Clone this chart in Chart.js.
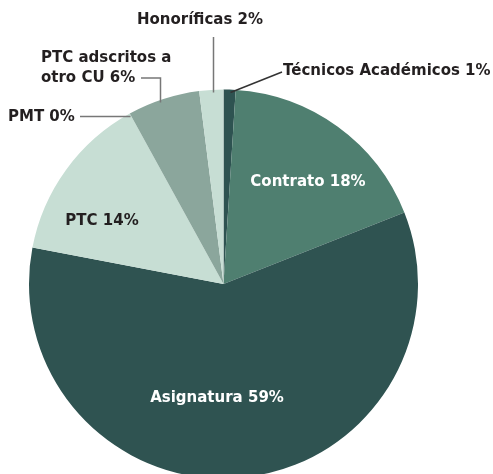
<!DOCTYPE html>
<html>
<head>
<meta charset="utf-8">
<script src="https://cdn.jsdelivr.net/npm/chart.js@4"></script>
<style>
  html, body { margin: 0; padding: 0; background: #fff; overflow: hidden; }
  #wrap { width: 493px; height: 480px; position: relative; }
</style>
</head>
<body>
<div id="wrap"><canvas id="pieChart"></canvas></div>
<script>
// Datos del gráfico (en sentido horario desde arriba)
const categorias = ['Técnicos Académicos', 'Contrato', 'Asignatura', 'PTC', 'PMT', 'PTC adscritos a otro CU', 'Honoríficas'];
const porcentajes = [1, 18, 59, 14, 0, 6, 2];
const colores = ['#2e5351', '#4f7f70', '#2f5351', '#c7ded4', '#c7ded4', '#8ba69c', '#c7ded4'];

// Etiquetas: dentro o fuera con línea guía
const etiquetas = [
  { lines: ['Técnicos Académicos 1%'], kind: 'out', x: 283, y: 71, align: 'left', lead: 'diag', line: '#333' },
  { lines: ['Contrato 18%'], kind: 'in', x: 308, y: 182, color: '#fff' },
  { lines: ['Asignatura 59%'], kind: 'in', x: 217, y: 398, color: '#fff' },
  { lines: ['PTC 14%'], kind: 'in', x: 102, y: 221, color: '#231f20' },
  { lines: ['PMT 0%'], kind: 'out', x: 8, y: 117, align: 'left', lead: 'horiz', endX: 80, line: '#777' },
  { lines: ['PTC adscritos a', 'otro CU 6%'], kind: 'out', x: 41, y: 58, align: 'left', lead: 'elbow', endX: 141, endY: 78, line: '#777' },
  { lines: ['Honoríficas 2%'], kind: 'out', x: 200, y: 20, align: 'center', lead: 'vert', endY: 37, line: '#777' }
];

const fuente = 'bold 15px "DejaVu Sans", sans-serif';

const labelPlugin = {
  id: 'labelPlugin',
  afterDraw(chart) {
    const ctx = chart.ctx;
    const meta = chart.getDatasetMeta(0);
    ctx.save();
    ctx.font = fuente;
    ctx.textBaseline = 'middle';
    etiquetas.forEach((et, i) => {
      const arc = meta.data[i];
      if (et.kind === 'out') {
        const mid = (arc.startAngle + arc.endAngle) / 2;
        const px = Math.round(arc.x + Math.cos(mid) * arc.outerRadius) + 0.5;
        const py = Math.round(arc.y + Math.sin(mid) * arc.outerRadius) + 0.5;
        ctx.strokeStyle = et.line;
        ctx.lineWidth = 1.5;
        ctx.beginPath();
        if (et.lead === 'diag') {
          ctx.moveTo(px, py + 2);
          ctx.lineTo(et.x - 1, et.y + 1);
        } else if (et.lead === 'horiz') {
          ctx.moveTo(px, py + 2);
          ctx.lineTo(et.endX, py + 2);
        } else if (et.lead === 'elbow') {
          ctx.moveTo(px - 3, py + 3);
          ctx.lineTo(px - 3, et.endY);
          ctx.lineTo(et.endX, et.endY);
        } else if (et.lead === 'vert') {
          ctx.moveTo(px + 2, py + 2);
          ctx.lineTo(px + 2, et.endY);
        }
        ctx.stroke();
        ctx.fillStyle = '#231f20';
      } else {
        ctx.fillStyle = et.color;
      }
      ctx.textAlign = et.kind === 'in' ? 'center' : et.align;
      et.lines.forEach((t, k) => ctx.fillText(t, et.x, et.y + k * 20));
    });
    ctx.restore();
  }
};

const data = {
  labels: categorias,
  datasets: [{
    data: porcentajes,
    backgroundColor: colores,
    borderWidth: 0
  }]
};

const config = {
  type: 'pie',
  data: data,
  options: {
    responsive: true,
    maintainAspectRatio: false,
    animation: false,
    layout: { padding: { left: 29, right: 75, top: 89, bottom: 1 } },
    plugins: {
      legend: { display: false },
      tooltip: { enabled: false }
    }
  },
  plugins: [labelPlugin]
};

const pieChart = new Chart(document.getElementById('pieChart'), config);
</script>
</body>
</html>
